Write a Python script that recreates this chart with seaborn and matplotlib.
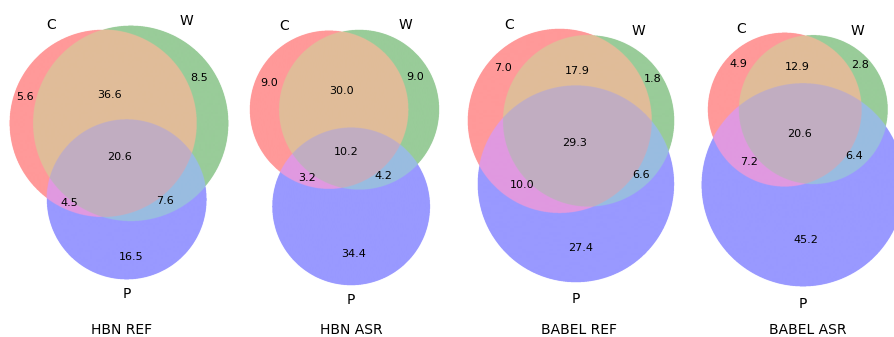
import numpy as np
import matplotlib
matplotlib.use("Agg")
import matplotlib.pyplot as plt
import seaborn as sns

# region order: C only, W only, C&W, P only, C&P, W&P, C&W&P  (percent)
panel_names = ["HBN REF", "HBN ASR", "BABEL REF", "BABEL ASR"]
hbn_ref = [5.6, 8.5, 36.6, 16.5, 4.5, 7.6, 20.6]
hbn_asr = [9.0, 9.0, 30.0, 34.4, 3.2, 4.2, 10.2]
babel_ref = [7.0, 1.8, 17.9, 27.4, 10.0, 6.6, 29.3]
babel_asr = [4.9, 2.8, 12.9, 45.2, 7.2, 6.4, 20.6]
set_names = ["C", "W", "P"]
all_subsets = [hbn_ref, hbn_asr, babel_ref, babel_asr]

# layout (pixels of the 894x337 canvas)
FIG_W, FIG_H = 894, 337
AX_H = 294.5
panel_center = [(119.0, 152.3), (343.7, 157.3), (571.3, 155.7), (802.9, 159.9)]
title_x = [122, 351, 579, 808]
title_y = 330
number_pos = [
    [(25, 97.3), (199, 77.7), (110, 95), (131, 256.7), (69, 203.3), (165, 201), (120, 156.7)],
    [(269.3, 82.7), (415, 77.3), (341, 90.7), (353.3, 254.3), (306.7, 178.3), (383.3, 175.7), (346, 152.3)],
    [(503.3, 68.3), (652.7, 78.7), (577.3, 71), (580.7, 248.3), (522.3, 185.3), (640.7, 175), (575, 143.3)],
    [(738.3, 64), (860.3, 65), (797.7, 66.7), (806, 240), (749, 162.3), (854, 156), (799.3, 133.7)],
]


def overlap_area(r1, r2, d):
    if d >= r1 + r2:
        return 0.0
    if d <= abs(r1 - r2):
        return np.pi * min(r1, r2) ** 2
    a1 = r1 ** 2 * np.arccos((d ** 2 + r1 ** 2 - r2 ** 2) / (2 * d * r1))
    a2 = r2 ** 2 * np.arccos((d ** 2 + r2 ** 2 - r1 ** 2) / (2 * d * r2))
    a3 = 0.5 * np.sqrt((-d + r1 + r2) * (d + r1 - r2) * (d - r1 + r2) * (d + r1 + r2))
    return a1 + a2 - a3


def distance_for_area(r1, r2, area):
    lo, hi = abs(r1 - r2), r1 + r2
    for _ in range(80):
        mid = (lo + hi) / 2
        if overlap_area(r1, r2, mid) > area:
            lo = mid
        else:
            hi = mid
    return (lo + hi) / 2


def venn3_circles(subsets):
    a = np.array(subsets, float)
    a = a / a.sum()
    areas = np.array([a[0] + a[2] + a[4] + a[6],
                      a[1] + a[2] + a[5] + a[6],
                      a[3] + a[4] + a[5] + a[6]])
    radii = np.sqrt(areas / np.pi)
    d = [distance_for_area(radii[0], radii[1], a[2] + a[6]),
         distance_for_area(radii[1], radii[2], a[5] + a[6]),
         distance_for_area(radii[0], radii[2], a[4] + a[6])]
    for i in range(3):
        j, k = (i + 1) % 3, (i + 2) % 3
        if d[i] > d[j] + d[k]:
            s, b = (j, k) if d[j] < d[k] else (k, j)
            d[i] = d[b] + d[s] * 0.8
    d_ab, d_bc, d_ac = d
    cx = (d_ac ** 2 - d_bc ** 2 + d_ab ** 2) / (2 * d_ab)
    cy = -np.sqrt(max(d_ac ** 2 - cx ** 2, 0))
    centers = np.array([[0.0, 0.0], [d_ab, 0.0], [cx, cy]])
    w = radii ** 2
    centers = centers - (w[:, None] * centers).sum(0) / w.sum()
    return centers, radii


def mix(*cols):
    cols = np.array(cols)
    factor = 0.7 if len(cols) == 2 else 0.4
    return np.minimum(factor * cols.sum(0), 1.0)


sns.set_theme(style="white")
plt.rcParams["font.family"] = ["DejaVu Sans"]

# plain matplotlib red / green / blue (seaborn remaps the "r", "g", "b" codes)
base = [np.array([1.0, 0.0, 0.0]), np.array([0.0, 0.5, 0.0]), np.array([0.0, 0.0, 1.0])]
region_cols = [base[0], base[1], mix(base[0], base[1]), base[2],
               mix(base[0], base[2]), mix(base[1], base[2]),
               mix(base[0], base[1], base[2])]
alpha = 0.4
region_rgb = np.array([1 - alpha * (1 - c) for c in region_cols])

fig = plt.figure(figsize=(FIG_W / 100, FIG_H / 100), dpi=100)

for p, subsets in enumerate(all_subsets):
    centers, radii = venn3_circles(subsets)
    x0 = (centers[:, 0] - radii).min() - 0.1
    x1 = (centers[:, 0] + radii).max() + 0.1
    y0 = (centers[:, 1] - radii).min() - 0.1
    y1 = (centers[:, 1] + radii).max() + 0.1
    scale = AX_H / (y1 - y0)
    w_px = scale * (x1 - x0)
    cxp, cyp = panel_center[p]
    ax = fig.add_axes([(cxp - w_px / 2) / FIG_W, (FIG_H - cyp - AX_H / 2) / FIG_H,
                       w_px / FIG_W, AX_H / FIG_H])

    nx, ny = int(w_px * 4), int(AX_H * 4)
    X, Y = np.meshgrid(np.linspace(x0, x1, nx), np.linspace(y0, y1, ny))
    code = np.zeros(X.shape, int)
    for i in range(3):
        inside = (X - centers[i, 0]) ** 2 + (Y - centers[i, 1]) ** 2 <= radii[i] ** 2
        code += inside * (1 << i)
    img = np.ones((ny, nx, 4))
    img[..., 3] = 0.0
    mask = code > 0
    img[mask, :3] = region_rgb[code[mask] - 1]
    img[mask, 3] = 1.0
    ax.imshow(img, extent=(x0, x1, y0, y1), origin="lower", interpolation="antialiased")
    ax.set_xlim(x0, x1)
    ax.set_ylim(y0, y1)
    ax.set_axis_off()

    ax.text(centers[0, 0] - radii[0] / 2, centers[0, 1] + radii[0], set_names[0],
            ha="right", va="baseline", fontsize=10, color="black")
    ax.text(centers[1, 0] + radii[1] / 2, centers[1, 1] + radii[1], set_names[1],
            ha="left", va="baseline", fontsize=10, color="black")
    ax.text(centers[2, 0], centers[2, 1] - 1.1 * radii[2], set_names[2],
            ha="center", va="top", fontsize=10, color="black")

    for v, (px, py) in zip(subsets, number_pos[p]):
        fig.text(px / FIG_W, 1 - py / FIG_H, f"{v:.1f}", ha="center", va="center",
                 fontsize=8, color="black")
    fig.text(title_x[p] / FIG_W, 1 - title_y / FIG_H, panel_names[p],
             ha="center", va="center", fontsize=10, color="black")

fig.savefig("out.png", dpi=100)
